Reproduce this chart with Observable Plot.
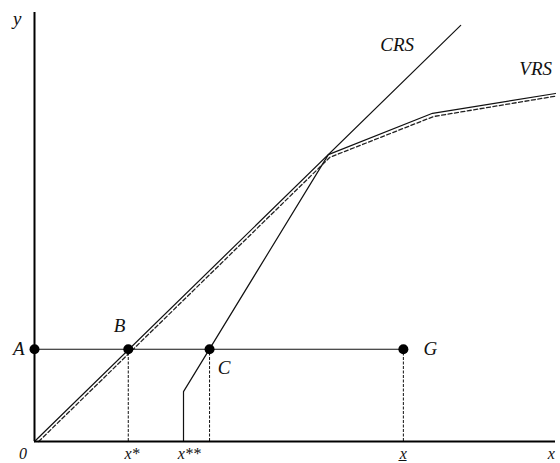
<!DOCTYPE html>
<html><head><meta charset="utf-8">
<script src="https://cdn.jsdelivr.net/npm/d3@7"></script>
<script src="https://cdn.jsdelivr.net/npm/@observablehq/plot@0.6"></script>
<style>body{margin:0;background:#fff}</style>
</head><body><div id="chart"></div>
<script>
// frontier vertices (data units)
const crsLine = [[0, 0], [8.18, 7.76]];
const vrsLine = [[2.86, 0], [2.86, 0.93], [5.64, 5.35], [7.64, 6.12], [10, 6.49]];
const vrsDashed = [[0.08, 0], [5.67, 5.30], [7.66, 6.06], [10, 6.44]];
const yLevel = 1.72;
const pointNames = ["A", "B", "C", "G"];
const pointX = [0, 1.80, 3.36, 7.08];
const dropX = [1.80, 3.36, 7.08];
const tickLabels = ["0", "x*", "x**", "x̲", "x"];
const tickX = [-0.22, 1.87, 2.97, 7.08, 9.92];
const labels = [
  {t: "y", x: -0.33, y: 7.88},
  {t: "CRS", x: 6.96, y: 7.4},
  {t: "VRS", x: 9.62, y: 6.95},
  {t: "A", x: -0.3, y: yLevel},
  {t: "B", x: 1.63, y: 2.15},
  {t: "C", x: 3.64, y: 1.38},
  {t: "G", x: 7.6, y: yLevel}
];

const points = pointNames.map((n, i) => ({n, x: pointX[i], y: yLevel}));
const ticks = tickLabels.map((t, i) => ({t, x: tickX[i]}));

const plot = Plot.plot({
  width: 560, height: 463,
  marginLeft: 34, marginRight: 5, marginTop: 12, marginBottom: 22,
  x: {domain: [0, 10], axis: null},
  y: {domain: [0, 8], axis: null},
  style: {fontFamily: "Liberation Serif", background: "#fff"},
  marks: [
    Plot.line(crsLine, {x: d => d[0], y: d => d[1], stroke: "#111", strokeWidth: 1.2}),
    Plot.line(vrsLine, {x: d => d[0], y: d => d[1], stroke: "#111", strokeWidth: 1.2}),
    Plot.line(vrsDashed, {x: d => d[0], y: d => d[1], stroke: "#222", strokeWidth: 1.3, strokeDasharray: "4,2.5"}),
    Plot.ruleY([yLevel], {x1: 0, x2: pointX[3], stroke: "#111", strokeWidth: 1.2}),
    Plot.ruleX(dropX, {y1: 0, y2: yLevel, stroke: "#111", strokeWidth: 1, strokeDasharray: "3,1.5"}),
    Plot.ruleX([0], {y1: 0, y2: 8, stroke: "#000", strokeWidth: 2}),
    Plot.ruleY([0], {x1: 0, x2: 10, stroke: "#000", strokeWidth: 2}),
    Plot.dot(points, {x: "x", y: "y", r: 5, fill: "#000", stroke: "none"}),
    Plot.text(labels, {x: "x", y: "y", text: "t", fontSize: 19, fontStyle: "italic", fill: "#111"}),
    Plot.text(ticks, {x: "x", y: 0, text: "t", dy: 12, fontSize: 16, fontStyle: "italic", fill: "#111"})
  ]
});
document.getElementById("chart").appendChild(plot);
</script></body></html>
